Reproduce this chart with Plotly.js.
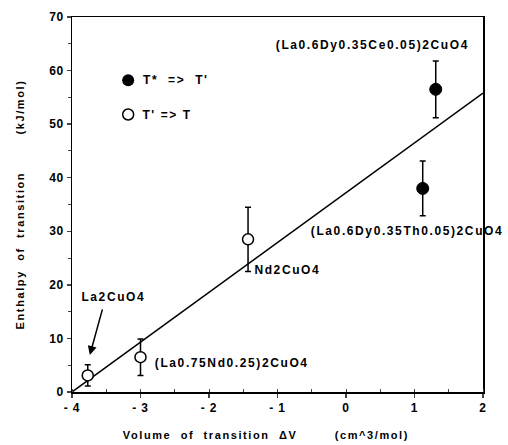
<!DOCTYPE html>
<html>
<head>
<meta charset="utf-8">
<script src="https://cdn.plot.ly/plotly-3.0.1.min.js"></script>
<style>
html,body{margin:0;padding:0;background:#fff;}
#chart{width:508px;height:445px;}
#chart text.annotation-text{letter-spacing:1.6px;}
#chart .xtick text,#chart .ytick text{letter-spacing:0.8px;}
#chart text.xtitle,#chart text.ytitle{letter-spacing:1.6px;}
</style>
</head>
<body>
<div id="chart"></div>
<script>
// Open circles: T' => T
const openNames = ["La2CuO4", "(La0.75Nd0.25)2CuO4", "Nd2CuO4"];
const openX = [-3.77, -3.0, -1.43];
const openY = [3.1, 6.5, 28.5];
const openErr = [2.0, 3.4, 6.0];
// Filled circles: T* => T'
const filledNames = ["(La0.6Dy0.35Ce0.05)2CuO4", "(La0.6Dy0.35Th0.05)2CuO4"];
const filledX = [1.31, 1.12];
const filledY = [56.5, 38.0];
const filledErr = [5.3, 5.1];
// Linear fit
const fitX = [-4, 2];
const fitY = [0, 55.8];
// Ticks
const xTickVals = [-4, -3, -2, -1, 0, 1, 2];
const xTickText = ["- 4", "- 3", "- 2", "- 1", "0", "1", "2"];
const yTickVals = [0, 10, 20, 30, 40, 50, 60, 70];
const xTitle = "Volume  of  transition  ΔV        (cm^3/mol)";
const yTitle = "Enthalpy  of  transition        (kJ/mol)";

const F = "Liberation Sans, Arial, Helvetica, sans-serif";
const traces = [
  {x: fitX, y: fitY, mode: "lines", line: {color: "#000", width: 1.5}, showlegend: false, hoverinfo: "skip"},
  {x: openX, y: openY, mode: "markers", name: "T' => T",
   error_y: {type: "data", array: openErr, visible: true, color: "#000", thickness: 1.5, width: 3},
   marker: {symbol: "circle", size: 11, color: "#fff", line: {color: "#000", width: 1.5}}, showlegend: false},
  {x: filledX, y: filledY, mode: "markers", name: "T* => T'",
   error_y: {type: "data", array: filledErr, visible: true, color: "#000", thickness: 1.5, width: 3},
   marker: {symbol: "circle", size: 12, color: "#000", line: {color: "#000", width: 1}}, showlegend: false},
  // legend markers
  {x: [-3.18], y: [58.2], mode: "markers", marker: {symbol: "circle", size: 12, color: "#000"}, showlegend: false, hoverinfo: "skip"},
  {x: [-3.18], y: [51.8], mode: "markers", marker: {symbol: "circle", size: 11, color: "#fff", line: {color: "#000", width: 1.5}}, showlegend: false, hoverinfo: "skip"}
];

const lab = (text, x, y) => ({text, x, y, xref: "x", yref: "y", showarrow: false, xanchor: "center", yanchor: "middle",
  font: {family: F, size: 12, color: "#000", weight: "bold"}});

const annotations = [
  lab(filledNames[0], 0.39, 64.7),
  lab(filledNames[1], 0.89, 30.1),
  lab(openNames[2], -0.85, 22.8),
  lab(openNames[1], -1.67, 5.4),
  lab(openNames[0], -3.40, 17.7),
  lab("T*  =>  T'", -2.48, 58.2),
  lab("T' => T", -2.61, 51.8),
  {x: -3.74, y: 6.9, ax: -3.55, ay: 15.7, axref: "x", ayref: "y", xref: "x", yref: "y", text: "", showarrow: true,
   arrowhead: 2, arrowsize: 1.2, arrowwidth: 1.5, arrowcolor: "#000"},
  {text: xTitle, xref: "paper", yref: "paper", x: 0.473, y: -0.115, xanchor: "center", yanchor: "middle", showarrow: false,
   font: {family: F, size: 11, color: "#000", weight: "bold"}}
];

const layout = {
  width: 508, height: 445,
  margin: {l: 72, r: 25, t: 17, b: 53},
  paper_bgcolor: "#fff", plot_bgcolor: "#fff",
  font: {family: F, color: "#000"},
  showlegend: false,
  xaxis: {range: [-4, 2], tickvals: xTickVals, ticktext: xTickText, ticks: "outside", ticklen: 4, tickwidth: 1.5,
    minor: {dtick: 0.5, ticks: "inside", ticklen: 3, tickwidth: 1},
    showgrid: false, zeroline: false, showline: true, linecolor: "#000", linewidth: 1.5, mirror: true,
    tickfont: {family: F, size: 12, weight: "bold"}},
  yaxis: {range: [0, 70], tickvals: yTickVals, ticks: "outside", ticklen: 4, tickwidth: 1.5,
    minor: {dtick: 5, ticks: "outside", ticklen: 3, tickwidth: 1},
    showgrid: false, zeroline: false, showline: true, linecolor: "#000", linewidth: 1.5, mirror: true,
    tickfont: {family: F, size: 12, weight: "bold"},
    title: {text: yTitle, font: {family: F, size: 11, weight: "bold"}, standoff: 24}},
  annotations
};

Plotly.newPlot("chart", traces, layout, {displayModeBar: false, staticPlot: true});
</script>
</body>
</html>
